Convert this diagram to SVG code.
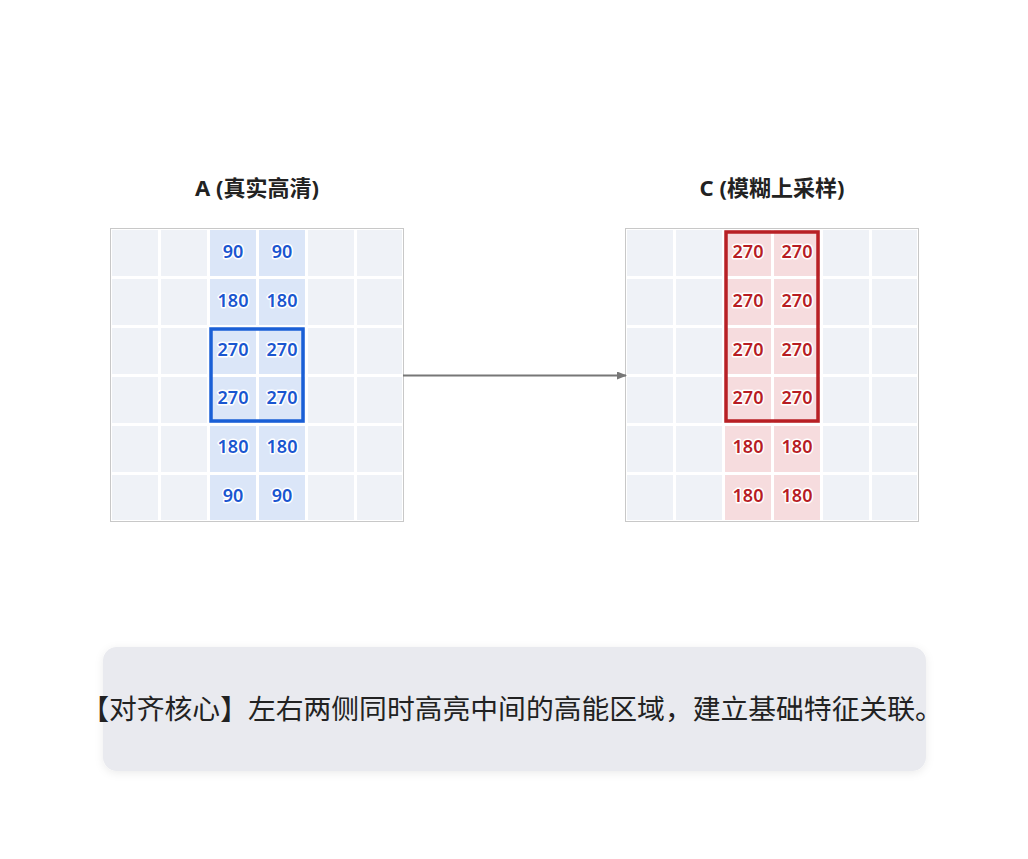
<svg xmlns="http://www.w3.org/2000/svg" width="1028" height="859" viewBox="0 0 1028 859">
<defs>
<marker id="ah" markerWidth="10" markerHeight="8" refX="9" refY="4" orient="auto" markerUnits="userSpaceOnUse"><path d="M0,0 L10,4 L0,8 Z" fill="#777"/></marker>
<filter id="sh" x="-5%" y="-20%" width="110%" height="140%"><feDropShadow dx="0" dy="2" stdDeviation="4" flood-color="#000" flood-opacity="0.08"/></filter>
</defs>
<style>
.title{font-family:"Noto Sans","Noto Sans CJK SC",sans-serif;font-weight:bold;font-size:22px;fill:#222;text-anchor:middle}
.c{fill:#eff2f7}
.hb{fill:#dbe6f8}
.hr{fill:#f6dcde}
.v{font-family:"Noto Sans",sans-serif;font-weight:600;font-size:18px;text-anchor:middle;paint-order:stroke;stroke:#fff;stroke-width:3px;stroke-linejoin:round}
.vb{fill:#1a56d0}
.vr{fill:#b71c24}
</style>
<rect width="1028" height="859" fill="#fff"/>
<g id="nodeA">
<text class="title" x="257" y="196">A (真实高清)</text>
<rect x="110.5" y="228.5" width="293" height="293" fill="#fff" stroke="#c8c8c8"/>
<g>
<rect class="c" x="112" y="230" width="46" height="46"/><rect class="c" x="161" y="230" width="46" height="46"/><rect class="hb" x="210" y="230" width="46" height="46"/><rect class="hb" x="259" y="230" width="46" height="46"/><rect class="c" x="308" y="230" width="46" height="46"/><rect class="c" x="357" y="230" width="45" height="46"/>
<rect class="c" x="112" y="279" width="46" height="46"/><rect class="c" x="161" y="279" width="46" height="46"/><rect class="hb" x="210" y="279" width="46" height="46"/><rect class="hb" x="259" y="279" width="46" height="46"/><rect class="c" x="308" y="279" width="46" height="46"/><rect class="c" x="357" y="279" width="45" height="46"/>
<rect class="c" x="112" y="328" width="46" height="46"/><rect class="c" x="161" y="328" width="46" height="46"/><rect class="hb" x="210" y="328" width="46" height="46"/><rect class="hb" x="259" y="328" width="46" height="46"/><rect class="c" x="308" y="328" width="46" height="46"/><rect class="c" x="357" y="328" width="45" height="46"/>
<rect class="c" x="112" y="377" width="46" height="46"/><rect class="c" x="161" y="377" width="46" height="46"/><rect class="hb" x="210" y="377" width="46" height="46"/><rect class="hb" x="259" y="377" width="46" height="46"/><rect class="c" x="308" y="377" width="46" height="46"/><rect class="c" x="357" y="377" width="45" height="46"/>
<rect class="c" x="112" y="426" width="46" height="46"/><rect class="c" x="161" y="426" width="46" height="46"/><rect class="hb" x="210" y="426" width="46" height="46"/><rect class="hb" x="259" y="426" width="46" height="46"/><rect class="c" x="308" y="426" width="46" height="46"/><rect class="c" x="357" y="426" width="45" height="46"/>
<rect class="c" x="112" y="475" width="46" height="45"/><rect class="c" x="161" y="475" width="46" height="45"/><rect class="hb" x="210" y="475" width="46" height="45"/><rect class="hb" x="259" y="475" width="46" height="45"/><rect class="c" x="308" y="475" width="46" height="45"/><rect class="c" x="357" y="475" width="45" height="45"/>
</g>
<g class="v vb">
<text x="233" y="258">90</text><text x="282" y="258">90</text>
<text x="233" y="307">180</text><text x="282" y="307">180</text>
<text x="233" y="356">270</text><text x="282" y="356">270</text>
<text x="233" y="404">270</text><text x="282" y="404">270</text>
<text x="233" y="453">180</text><text x="282" y="453">180</text>
<text x="233" y="502">90</text><text x="282" y="502">90</text>
</g>
<rect x="211" y="329" width="92" height="92" fill="none" stroke="#1a5fd6" stroke-width="3.5"/>
</g>
<g id="nodeC">
<text class="title" x="772" y="196">C (模糊上采样)</text>
<rect x="625.5" y="228.5" width="293" height="293" fill="#fff" stroke="#c8c8c8"/>
<g>
<rect class="c" x="627" y="230" width="46" height="46"/><rect class="c" x="676" y="230" width="46" height="46"/><rect class="hr" x="725" y="230" width="46" height="46"/><rect class="hr" x="774" y="230" width="46" height="46"/><rect class="c" x="823" y="230" width="46" height="46"/><rect class="c" x="872" y="230" width="45" height="46"/>
<rect class="c" x="627" y="279" width="46" height="46"/><rect class="c" x="676" y="279" width="46" height="46"/><rect class="hr" x="725" y="279" width="46" height="46"/><rect class="hr" x="774" y="279" width="46" height="46"/><rect class="c" x="823" y="279" width="46" height="46"/><rect class="c" x="872" y="279" width="45" height="46"/>
<rect class="c" x="627" y="328" width="46" height="46"/><rect class="c" x="676" y="328" width="46" height="46"/><rect class="hr" x="725" y="328" width="46" height="46"/><rect class="hr" x="774" y="328" width="46" height="46"/><rect class="c" x="823" y="328" width="46" height="46"/><rect class="c" x="872" y="328" width="45" height="46"/>
<rect class="c" x="627" y="377" width="46" height="46"/><rect class="c" x="676" y="377" width="46" height="46"/><rect class="hr" x="725" y="377" width="46" height="46"/><rect class="hr" x="774" y="377" width="46" height="46"/><rect class="c" x="823" y="377" width="46" height="46"/><rect class="c" x="872" y="377" width="45" height="46"/>
<rect class="c" x="627" y="426" width="46" height="46"/><rect class="c" x="676" y="426" width="46" height="46"/><rect class="hr" x="725" y="426" width="46" height="46"/><rect class="hr" x="774" y="426" width="46" height="46"/><rect class="c" x="823" y="426" width="46" height="46"/><rect class="c" x="872" y="426" width="45" height="46"/>
<rect class="c" x="627" y="475" width="46" height="45"/><rect class="c" x="676" y="475" width="46" height="45"/><rect class="hr" x="725" y="475" width="46" height="45"/><rect class="hr" x="774" y="475" width="46" height="45"/><rect class="c" x="823" y="475" width="46" height="45"/><rect class="c" x="872" y="475" width="45" height="45"/>
</g>
<g class="v vr">
<text x="748" y="258">270</text><text x="797" y="258">270</text>
<text x="748" y="307">270</text><text x="797" y="307">270</text>
<text x="748" y="356">270</text><text x="797" y="356">270</text>
<text x="748" y="404">270</text><text x="797" y="404">270</text>
<text x="748" y="453">180</text><text x="797" y="453">180</text>
<text x="748" y="502">180</text><text x="797" y="502">180</text>
</g>
<rect x="726" y="232" width="92" height="189" fill="none" stroke="#b82025" stroke-width="3.5"/>
</g>
<g id="connectors">
<line x1="403" y1="375.5" x2="626" y2="375.5" stroke="#777" stroke-width="2" marker-end="url(#ah)"/>
</g>
<g id="note">
<rect x="103" y="647" width="823" height="124" rx="14" fill="#e9eaef" filter="url(#sh)"/>
<text x="512" y="719" font-family="Noto Sans CJK SC,sans-serif" font-size="27.8" fill="#222" text-anchor="middle">【对齐核心】左右两侧同时高亮中间的高能区域，建立基础特征关联。</text>
</g>
</svg>
